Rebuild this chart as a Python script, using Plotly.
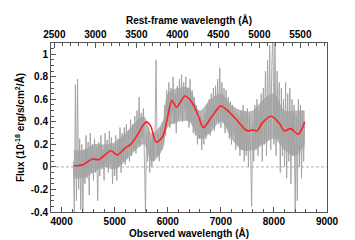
import numpy as np
import plotly.graph_objects as go

# Observed spectrum (grey), 20 A sampling starting at 4220 A
spec_start = 4220
spec_step = 20
spec_flux = [
    0.05, -0.40, 0.73, -0.30, 0.78, -0.20, 0.25, -0.38, 0.20, -0.40,
    0.15, -0.15, 0.28, -0.10, 0.22, -0.25, 0.30, -0.05, 0.20, -0.12,
    0.25, -0.05, 0.18, -0.30, 0.22, -0.08, 0.28, -0.02, 0.15, -0.12,
    0.30, 0.00, 0.24, -0.05, 0.32, 0.02, 0.26, -0.15, 0.20, -0.08,
    0.28, -0.12, 0.25, 0.00, 0.35, -0.05, 0.30, 0.05, 0.35, 0.02,
    0.38, 0.08, 0.32, 0.05, 0.42, 0.10, 0.38, 0.15, 0.45, 0.12,
    0.50, 0.20, 0.62, 0.18, 0.48, 0.25, 0.52, 0.10, -0.40, 0.30,
    0.05, 0.35, -0.05, 0.25, 0.00, 0.28, 0.05, 0.30, 0.95, 0.10,
    0.30, 0.05, 0.35, 0.15, 0.40, 0.20, 0.55, 0.28, 0.68, 0.40,
    0.75, 0.35, 0.70, 0.45, 0.80, 0.38, 0.65, 0.30, 0.72, 0.42,
    0.78, 0.45, 0.82, 0.40, 0.75, 0.50, 0.80, 0.42, 0.70, 0.35,
    0.78, 0.40, 0.68, 0.30, 0.62, 0.28, 0.55, 0.20, 0.50, 0.25,
    0.45, 0.15, 0.42, 0.20, 0.48, 0.25, 0.55, 0.30, 0.60, 0.28,
    0.65, 0.35, 0.70, 0.32, 0.72, 0.40, 0.78, 0.38, 0.88, 0.35,
    0.75, 0.40, 0.70, 0.30, 0.68, 0.35, 0.62, 0.25, 0.58, 0.20,
    0.55, 0.30, 0.50, 0.15, 0.48, 0.20, 0.45, 0.10, 0.50, 0.15,
    0.55, 0.05, 0.48, 0.10, 0.52, 0.00, 0.45, 0.15, -0.35, 0.40,
    0.05, 0.55, 0.15, 0.60, 0.10, 0.50, 0.20, 0.65, 0.05, 0.70,
    0.20, 0.85, 0.10, 0.95, 0.25, 1.08, 0.15, 0.90, 1.20, 0.20,
    1.15, 0.10, 0.85, 0.25, 0.75, -0.05, 0.70, 0.10, 0.60, 0.00,
    0.75, -0.10, 0.65, 0.05, 0.70, -0.15, 0.60, 0.10, 0.55, -0.40,
    0.45, -0.30, 0.60, 0.00, 0.55, -0.10, 0.50, 0.05, 0.40,
]
spec_wave = [spec_start + spec_step * i for i in range(len(spec_flux))]

# Dense core of the grey spectrum
core_wave = [4230, 4400, 4600, 4800, 5000, 5200, 5400, 5550, 5700, 5900, 6000,
             6200, 6400, 6600, 6800, 7000, 7200, 7400, 7600, 7800, 8000, 8200,
             8400, 8580]
core_low = [-0.10, -0.10, -0.05, 0.00, -0.02, 0.05, 0.15, 0.20, 0.05, 0.15, 0.35,
            0.40, 0.40, 0.25, 0.30, 0.40, 0.25, 0.15, 0.15, 0.20, 0.25, 0.15,
            0.10, 0.20]
core_high = [0.15, 0.15, 0.20, 0.20, 0.22, 0.30, 0.40, 0.45, 0.30, 0.40, 0.65,
             0.70, 0.70, 0.50, 0.60, 0.65, 0.55, 0.50, 0.50, 0.60, 0.65, 0.50,
             0.50, 0.50]

# Smoothed spectrum (red)
smooth_wave = [4230, 4400, 4580, 4700, 4800, 4930, 5050, 5200, 5300, 5450, 5520,
               5600, 5680, 5783, 5906, 6000, 6077, 6168, 6322, 6456, 6578, 6670,
               6822, 6992, 7128, 7311, 7463, 7530, 7600, 7680, 7798, 7952, 8104,
               8196, 8318, 8458, 8580]
smooth_flux = [0.01, 0.02, 0.07, 0.065, 0.10, 0.143, 0.106, 0.17, 0.20, 0.30, 0.36,
               0.40, 0.36, 0.22, 0.27, 0.45, 0.59, 0.53, 0.63, 0.575, 0.45, 0.35,
               0.44, 0.54, 0.50, 0.41, 0.33, 0.32, 0.33, 0.32, 0.40, 0.45, 0.385,
               0.32, 0.34, 0.29, 0.40]

one_plus_z = 1.545
obs_range = [3800, 9000]
y_range = [-0.4, 1.1]
bottom_ticks = [4000, 5000, 6000, 7000, 8000, 9000]
top_ticks = [2500, 3000, 3500, 4000, 4500, 5000, 5500]
y_ticks = [-0.4, -0.2, 0, 0.2, 0.4, 0.6, 0.8, 1.0]
y_labels = ["-0.4", "-0.2", "0", "0.2", "0.4", "0.6", "0.8", "1"]

font = "Liberation Sans"
axcol = "#555555"

fig = go.Figure()
fig.add_trace(go.Scatter(x=obs_range, y=[0, 0], mode="lines",
                         line=dict(color="#999999", width=0.8, dash="3px,2px"),
                         hoverinfo="skip", showlegend=False))
fig.add_trace(go.Scatter(x=core_wave, y=core_low, mode="lines",
                         line=dict(width=0, color="#a8a8a8", shape="spline"),
                         hoverinfo="skip", showlegend=False))
fig.add_trace(go.Scatter(x=core_wave, y=core_high, mode="lines", fill="tonexty",
                         fillcolor="rgba(160,160,160,0.75)",
                         line=dict(width=0, color="#a8a8a8", shape="spline"),
                         hoverinfo="skip", showlegend=False))
fig.add_trace(go.Scatter(x=spec_wave, y=spec_flux, mode="lines",
                         line=dict(color="#a0a0a0", width=0.9),
                         showlegend=False))
fig.add_trace(go.Scatter(x=smooth_wave, y=smooth_flux, mode="lines",
                         line=dict(color="#ff2020", width=1.6, shape="spline", smoothing=0.8),
                         showlegend=False))
# invisible trace to activate top axis
fig.add_trace(go.Scatter(x=[obs_range[0] / one_plus_z], y=[0], xaxis="x2",
                         mode="markers", marker=dict(opacity=0), hoverinfo="skip",
                         showlegend=False))

tickfont = dict(family=font, size=10, color="black", weight="bold")
titlefont = dict(family=font, size=10, color="black", weight="bold")
fig.update_layout(
    width=355, height=240,
    margin=dict(l=35, r=36, t=23, b=24),
    paper_bgcolor="white", plot_bgcolor="white",
    font=dict(family=font, color="black"),
    xaxis=dict(range=obs_range, tickvals=bottom_ticks, ticks="inside", ticklen=5,
               tickcolor=axcol, showline=True, linecolor=axcol, linewidth=1,
               showgrid=False, zeroline=False, tickfont=tickfont,
               minor=dict(dtick=200, ticks="inside", ticklen=3, tickcolor=axcol),
               title=dict(text="Observed wavelength (Å)", font=titlefont, standoff=2)),
    xaxis2=dict(range=[obs_range[0] / one_plus_z, obs_range[1] / one_plus_z],
                overlaying="x", side="top", tickvals=top_ticks, ticks="inside",
                ticklen=5, tickcolor=axcol, showline=True, linecolor=axcol, linewidth=1,
                showgrid=False, zeroline=False, tickfont=tickfont,
                minor=dict(dtick=100, ticks="inside", ticklen=3, tickcolor=axcol),
                title=dict(text="Rest-frame wavelength (Å)", font=titlefont, standoff=2)),
    yaxis=dict(range=y_range, tickvals=y_ticks, ticktext=y_labels,
               ticks="inside", ticklen=5, tickcolor=axcol, showline=True, mirror=True,
               linecolor=axcol, linewidth=1, showgrid=False, zeroline=False,
               tickfont=tickfont,
               minor=dict(dtick=0.05, ticks="inside", ticklen=3, tickcolor=axcol),
               title=dict(text="Flux (10<sup>-18</sup> erg/s/cm<sup>2</sup>/Å)",
                          font=titlefont, standoff=4)),
)
fig.write_html("out.html")
